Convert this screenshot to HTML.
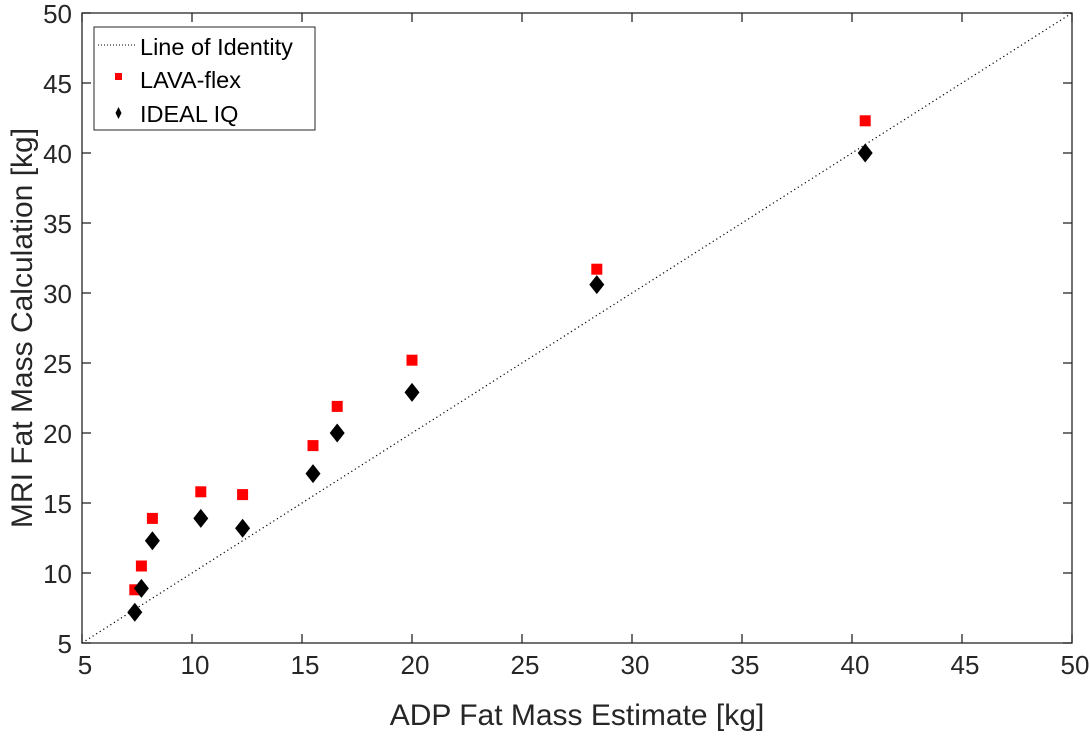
<!DOCTYPE html>
<html><head><meta charset="utf-8"><style>
body{margin:0;background:#fff;}
svg text{font-family:"Liberation Sans",Arial,sans-serif;fill:#262626;}
</style></head><body>
<svg id="c" width="1090" height="731" xmlns="http://www.w3.org/2000/svg">
<rect width="1090" height="731" fill="#fff"/>
<g id="plot"></g>
</svg>
<script>
const xTicks=[5,10,15,20,25,30,35,40,45,50];
const yTicks=[5,10,15,20,25,30,35,40,45,50];
const adp=[7.4,7.7,8.2,10.4,12.3,15.5,16.6,20.0,28.4,40.6];
const lava=[8.8,10.5,13.9,15.8,15.6,19.1,21.9,25.2,31.7,42.3];
const ideal=[7.2,8.9,12.3,13.9,13.2,17.1,20.0,22.9,30.6,40.0];
const L=82,R=1072,T=13,B=643;
const X=v=>L+(v-5)/45*(R-L);
const Y=v=>B-(v-5)/45*(B-T);
const NS='http://www.w3.org/2000/svg';
const g=document.getElementById('plot');
function mk(t,a){const e=document.createElementNS(NS,t);for(const k in a)e.setAttribute(k,a[k]);g.appendChild(e);return e;}
let e=mk('line',{x1:X(5),y1:Y(5),x2:X(50),y2:Y(50),stroke:'#000','stroke-width':1.2,'stroke-dasharray':'1.2 3'});


e=mk('rect',{x:L,y:T,width:R-L,height:B-T,fill:'none',stroke:'#262626','stroke-width':1.3});


xTicks.forEach(v=>{
 mk('line',{x1:X(v),x2:X(v),y1:B,y2:B-9,stroke:'#262626','stroke-width':1.3});
 mk('line',{x1:X(v),x2:X(v),y1:T,y2:T+9,stroke:'#262626','stroke-width':1.3});
 const t=mk('text',{x:X(v)+3,y:B+31,'text-anchor':'middle','font-size':26});t.textContent=v;
 
 
});
yTicks.forEach(v=>{
 mk('line',{x1:L,x2:L+9,y1:Y(v),y2:Y(v),stroke:'#262626','stroke-width':1.3});
 mk('line',{x1:R,x2:R-9,y1:Y(v),y2:Y(v),stroke:'#262626','stroke-width':1.3});
 const t=mk('text',{x:L-10,y:Y(v)+10,'text-anchor':'end','font-size':26});t.textContent=v;
 
 
});
adp.forEach((x,i)=>{
 const s=mk('rect',{x:X(x)-5.5,y:Y(lava[i])-5.5,width:11,height:11,fill:'#ff0000'});
 
 
});
adp.forEach((x,i)=>{
 const cx=X(x),cy=Y(ideal[i]);
 const d=mk('polygon',{points:`${cx},${cy-9.5} ${cx+7.5},${cy} ${cx},${cy+9.5} ${cx-7.5},${cy}`,fill:'#000'});
 
 
});
let t=mk('text',{x:(L+R)/2,y:725,'text-anchor':'middle','font-size':30});t.textContent='ADP Fat Mass Estimate [kg]';


t=mk('text',{x:0,y:0,'text-anchor':'middle','font-size':30,transform:`translate(32,${(T+B)/2}) rotate(-90)`});t.textContent='MRI Fat Mass Calculation [kg]';


const lg=document.createElementNS(NS,'g');g.appendChild(lg);


function lm(t,a){const e=document.createElementNS(NS,t);for(const k in a)e.setAttribute(k,a[k]);lg.appendChild(e);return e;}
lm('rect',{x:94,y:27,width:221,height:103,fill:'#fff',stroke:'#262626','stroke-width':1});
lm('line',{x1:98,x2:136,y1:45,y2:45,stroke:'#000','stroke-dasharray':'1 2'});
lm('rect',{x:115,y:73,width:7,height:7,fill:'#ff0000'});
lm('polygon',{points:'118.5,107 121.5,113 118.5,119 115.5,113',fill:'#000'});
[['Line of Identity',55],['LAVA-flex',88],['IDEAL IQ',122]].forEach(([s,y])=>{
 const tt=lm('text',{x:140,y:y,'font-size':23.5,fill:'#000'});tt.textContent=s;tt.style.fill='#000';
 
 
});
</script>
</body></html>
